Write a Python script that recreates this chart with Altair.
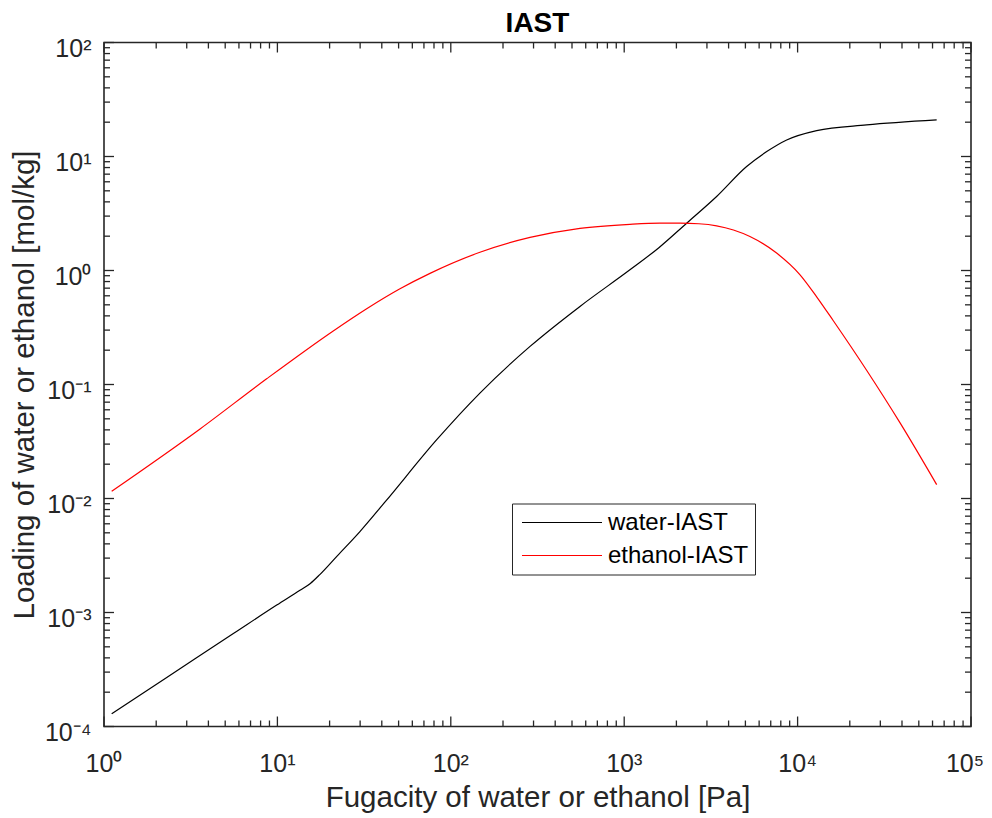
import altair as alt
import pandas as pd

# ---- data ----
water_p = [1.107, 2.301, 5.572, 9.908, 13.49, 15.49, 17.62, 22.08, 29.92, 41.78, 82.99, 147.2,
           286.4, 555.9, 1079, 1585, 2291, 3412, 5082, 6637, 8650, 12880, 25000, 63390]
water_q = [1.294e-4, 2.692e-4, 6.53e-4, 1.161e-3, 1.567e-3, 1.799e-3, 2.163e-3, 3.126e-3,
           5.129e-3, 9.333e-3, 0.03281, 0.08414, 0.2158, 0.4842, 1.014, 1.585, 2.600, 4.457,
           8.166, 11.04, 13.96, 16.87, 18.92, 20.94]

eth_p = [1.107, 3.581, 8.670, 20.99, 32.73, 50.93, 75.86, 147.2, 286.4, 555.9, 1079, 1607, 2099,
         2692, 3412, 4266, 5309, 7568, 10330, 12880, 16070, 25000, 38990, 63390]
eth_q = [0.01156, 0.04074, 0.1122, 0.2951, 0.4624, 0.6918, 0.9441, 1.445, 1.950, 2.344, 2.541,
         2.600, 2.600, 2.570, 2.466, 2.265, 1.986, 1.422, 0.917, 0.588, 0.3624, 0.1334, 0.04603,
         0.01324]

series_names = ["water-IAST", "ethanol-IAST"]
series_colors = ["#000000", "#ff0000"]

x_major = [1, 10, 100, 1000, 10000, 100000]
y_major = [1e-4, 1e-3, 1e-2, 1e-1, 1, 10, 100]
x_minor = [m * 10.0 ** k for k in range(0, 5) for m in range(2, 10)]
y_minor = [m * 10.0 ** k for k in range(-4, 2) for m in range(2, 10)]

W, H = 867, 684
AX = "#262626"
FONT = "Liberation Sans"

df = pd.concat([
    pd.DataFrame({"p": water_p, "q": water_q, "series": series_names[0]}),
    pd.DataFrame({"p": eth_p, "q": eth_q, "series": series_names[1]}),
])

xs = alt.Scale(type="log", domain=[1, 1e5], nice=False)
ys = alt.Scale(type="log", domain=[1e-4, 1e2], nice=False)


def sup(ref):
    return ("'10' + replace(replace(replace(replace(replace(replace(replace("
            "toString(round(log(" + ref + ")/LN10)),'-','\u207b'),'0','\u2070'),'1','\u00b9'),"
            "'2','\u00b2'),'3','\u00b3'),'4','\u2074'),'5','\u2075')")


x_axis = alt.Axis(
    values=x_major, labels=False, ticks=False, domain=False, grid=False,
    title="Fugacity of water or ethanol [Pa]", titleFontSize=29.5, titleFont=FONT,
    titleFontWeight="normal", titleColor=AX, titleY=80, titleBaseline="alphabetic")
y_axis = alt.Axis(
    values=y_major, labelExpr=sup("datum.value"), ticks=False, domain=False, grid=False,
    labelFontSize=25, labelColor=AX, labelFont=FONT, labelPadding=13,
    labelFlush=False, labelOverlap=False, labelOffset=6,
    title="Loading of water or ethanol [mol/kg]", titleFontSize=29.5, titleFont=FONT,
    titleFontWeight="normal", titleColor=AX, titleX=-71, titleBaseline="alphabetic")

lines = alt.Chart(df).mark_line(strokeWidth=1.2, interpolate="monotone").encode(
    x=alt.X("p:Q", scale=xs, axis=x_axis),
    y=alt.Y("q:Q", scale=ys, axis=y_axis),
    color=alt.Color("series:N", sort=series_names,
                    scale=alt.Scale(domain=series_names, range=series_colors),
                    legend=alt.Legend(
                        title=None, orient="none", legendX=408, legendY=461,
                        strokeColor=AX, fillColor="white", padding=6,
                        symbolType="stroke", symbolSize=6400, symbolStrokeWidth=1.2,
                        symbolOffset=3,
                        labelFontSize=24, labelFont=FONT, labelColor="#000000",
                        labelOffset=5, clipHeight=26, rowPadding=7)),
)


def xlabels(vals, dx):
    return alt.Chart(pd.DataFrame({"p": vals})).transform_calculate(
        lab=sup("datum.p")
    ).mark_text(fontSize=25, font=FONT, color=AX, baseline="top", align="center", dx=dx).encode(
        x=alt.X("p:Q", scale=xs, axis=x_axis), y=alt.value(H + 25), text="lab:N")


def xt(vals, y0, y1):
    return alt.Chart(pd.DataFrame({"p": vals})).mark_rule(color=AX, strokeWidth=1.3).encode(
        x=alt.X("p:Q", scale=xs, axis=x_axis), y=alt.value(y0), y2=alt.value(y1))


def yt(vals, x0, x1):
    return alt.Chart(pd.DataFrame({"q": vals})).mark_rule(color=AX, strokeWidth=1.3).encode(
        y=alt.Y("q:Q", scale=ys, axis=y_axis), x=alt.value(x0), x2=alt.value(x1))


ticks = [
    xt(x_major, 0, 10), xt(x_major, H, H - 10), xt(x_minor, 0, 6), xt(x_minor, H, H - 6),
    yt(y_major, 0, 10), yt(y_major, W, W - 10), yt(y_minor, 0, 6), yt(y_minor, W, W - 6),
]

chart = alt.layer(
    lines, *ticks, xlabels(x_major[:-1], 0), xlabels(x_major[-1:], -6)
).properties(
    width=W, height=H,
    title=alt.TitleParams("IAST", fontSize=28, fontWeight="bold", font=FONT,
                          color="#000000", offset=4, dy=5),
    padding={"left": 96, "top": 34.5, "right": 13, "bottom": 88},
    autosize=alt.AutoSizeParams(type="none"),
).configure(
    font=FONT, view=alt.ViewConfig(stroke=AX, strokeWidth=1.6)
)

chart.save("out.html", embed_options={"renderer": "svg", "actions": False})
